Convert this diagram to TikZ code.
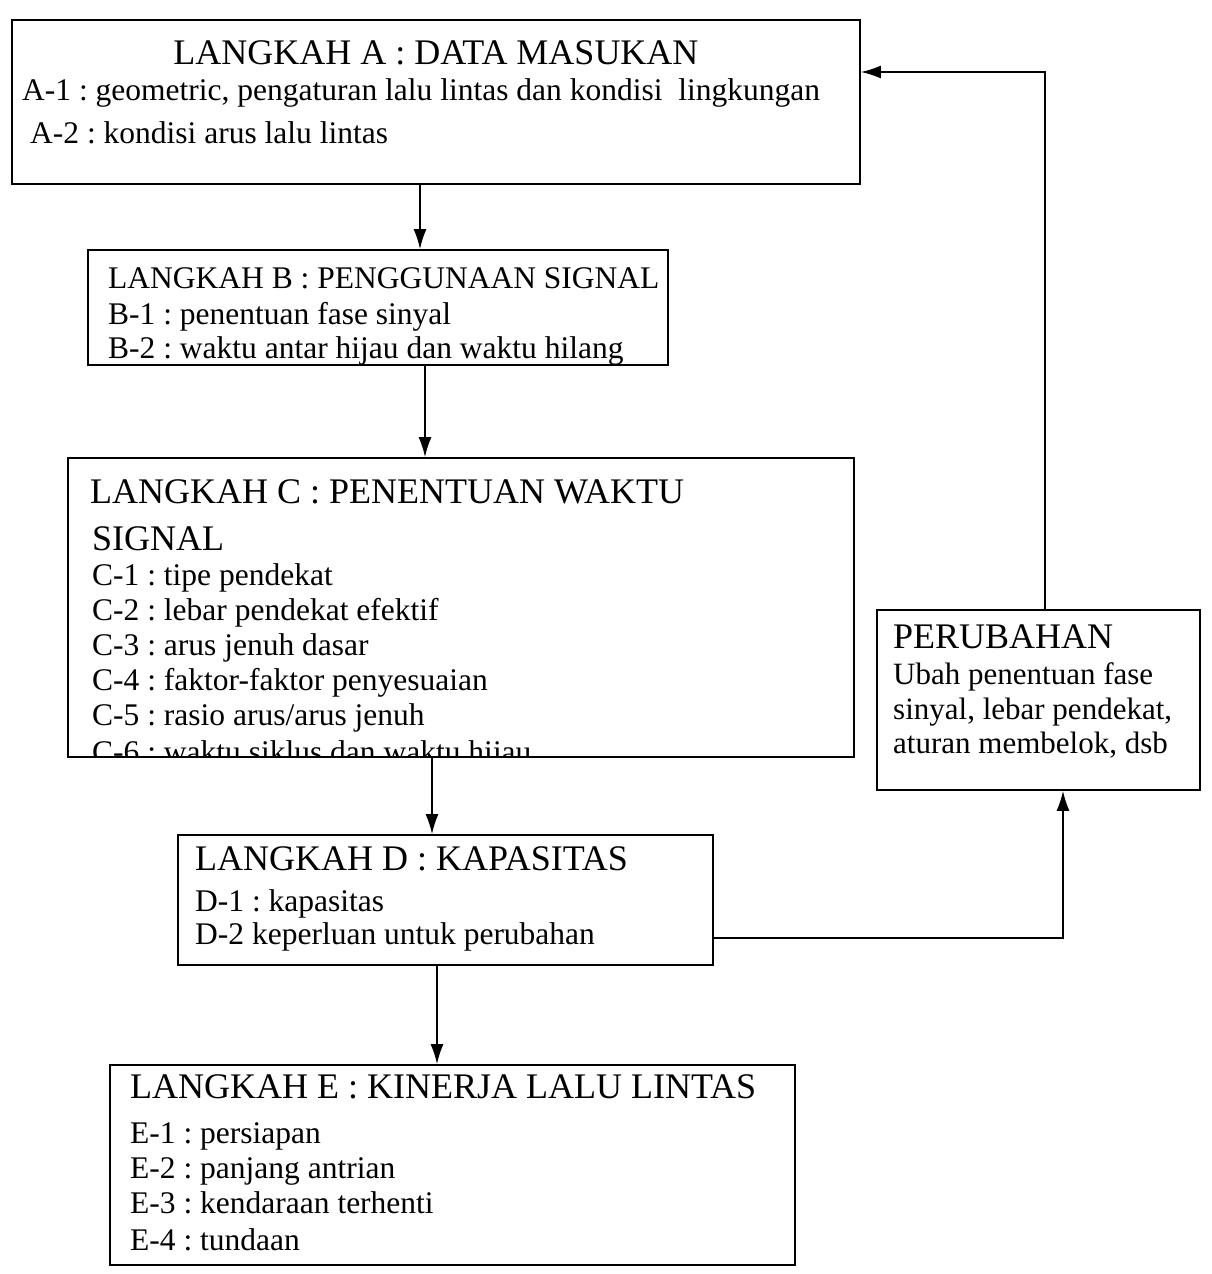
\documentclass[tikz,border=0pt]{standalone}
\usepackage{fontspec}
\setmainfont{Liberation Serif}
\usetikzlibrary{arrows.meta}

\tikzset{
  stepbox/.style={draw, line width=1.8pt, rectangle, inner sep=0pt},
  headtxt/.style={anchor=base west, inner sep=0pt, font=\frenchspacing\fontsize{36}{40}\selectfont},
  subtxt/.style={anchor=base west, inner sep=0pt, font=\frenchspacing\fontsize{31.5}{34}\selectfont},
  flow/.style={line width=1.6pt, -{Latex[length=20pt,width=13pt]}}
}

\begin{document}
\begin{tikzpicture}[x=1pt, y=-1pt]
\useasboundingbox (0,0) rectangle (1211,1274);

% langkah A
\draw (436,102) node[stepbox, minimum width=848pt, minimum height=164pt] (boxA) {};
\draw (436,64) node[headtxt, anchor=base] (titA) {LANGKAH A : DATA MASUKAN};
\draw (22,100) node[subtxt] (a1) {A-1 : geometric, pengaturan lalu lintas dan kondisi\ \ lingkungan};
\draw (30,143) node[subtxt] (a2) {A-2 : kondisi arus lalu lintas};

% langkah B
\draw (378,307.5) node[stepbox, minimum width=580pt, minimum height=115pt] (boxB) {};
\draw (108,288) node[subtxt] (titB) {LANGKAH B : PENGGUNAAN SIGNAL};
\draw (108,324) node[subtxt] (b1) {B-1 : penentuan fase sinyal};
\draw (108,358) node[subtxt] (b2) {B-2 : waktu antar hijau dan waktu hilang};

% langkah C
\draw (461,607.5) node[stepbox, minimum width=786pt, minimum height=299pt] (boxC) {};
\draw (90,503) node[headtxt] (titC) {LANGKAH C : PENENTUAN WAKTU};
\draw (92,550) node[headtxt] (titC2) {SIGNAL};
\draw (92,585) node[subtxt] (c1) {C-1 : tipe pendekat};
\draw (92,620) node[subtxt] (c2) {C-2 : lebar pendekat efektif};
\draw (92,655) node[subtxt] (c3) {C-3 : arus jenuh dasar};
\draw (92,690) node[subtxt] (c4) {C-4 : faktor-faktor penyesuaian};
\draw (92,725) node[subtxt] (c5) {C-5 : rasio arus/arus jenuh};
\begin{scope}
\clip (boxC.north west) rectangle (boxC.south east);
\draw (92,762) node[subtxt] (c6) {C-6 : waktu siklus dan waktu hijau};
\end{scope}

% langkah D
\draw (445.5,900) node[stepbox, minimum width=535pt, minimum height=130pt] (boxD) {};
\draw (195,870) node[headtxt] (titD) {LANGKAH D : KAPASITAS};
\draw (195,911) node[subtxt] (d1) {D-1 : kapasitas};
\draw (195,944) node[subtxt] (d2) {D-2 keperluan untuk perubahan};

% langkah E
\draw (452.5,1165) node[stepbox, minimum width=685pt, minimum height=200pt] (boxE) {};
\draw (130,1098) node[headtxt] (titE) {LANGKAH E : KINERJA LALU LINTAS};
\draw (130,1143) node[subtxt] (e1) {E-1 : persiapan};
\draw (130,1178) node[subtxt] (e2) {E-2 : panjang antrian};
\draw (130,1213) node[subtxt] (e3) {E-3 : kendaraan terhenti};
\draw (130,1250) node[subtxt] (e4) {E-4 : tundaan};

% perubahan
\draw (1038.5,700) node[stepbox, minimum width=323pt, minimum height=180pt] (boxP) {};
\draw (893,648) node[headtxt] (titP) {PERUBAHAN};
\draw (893,684) node[subtxt, font=\fontsize{31}{34}\selectfont] (p1) {Ubah penentuan fase};
\draw (893,719) node[subtxt, font=\fontsize{31}{34}\selectfont] (p2) {sinyal, lebar pendekat,};
\draw (893,753) node[subtxt, font=\fontsize{31}{34}\selectfont] (p3) {aturan membelok, dsb};

% alur
\draw[flow] (420,0 |- boxA.south) -- (420,0 |- boxB.north);
\draw[flow] (425,0 |- boxB.south) -- (425,0 |- boxC.north);
\draw[flow] (432,0 |- boxC.south) -- (432,0 |- boxD.north);
\draw[flow] (437,0 |- boxD.south) -- (437,0 |- boxE.north);
\draw[flow] (boxD.east |- 0,938) -| (1063,0 |- boxP.south);
\draw[flow] (1045,0 |- boxP.north) |- (boxA.east |- 0,72);
\end{tikzpicture}
\end{document}
